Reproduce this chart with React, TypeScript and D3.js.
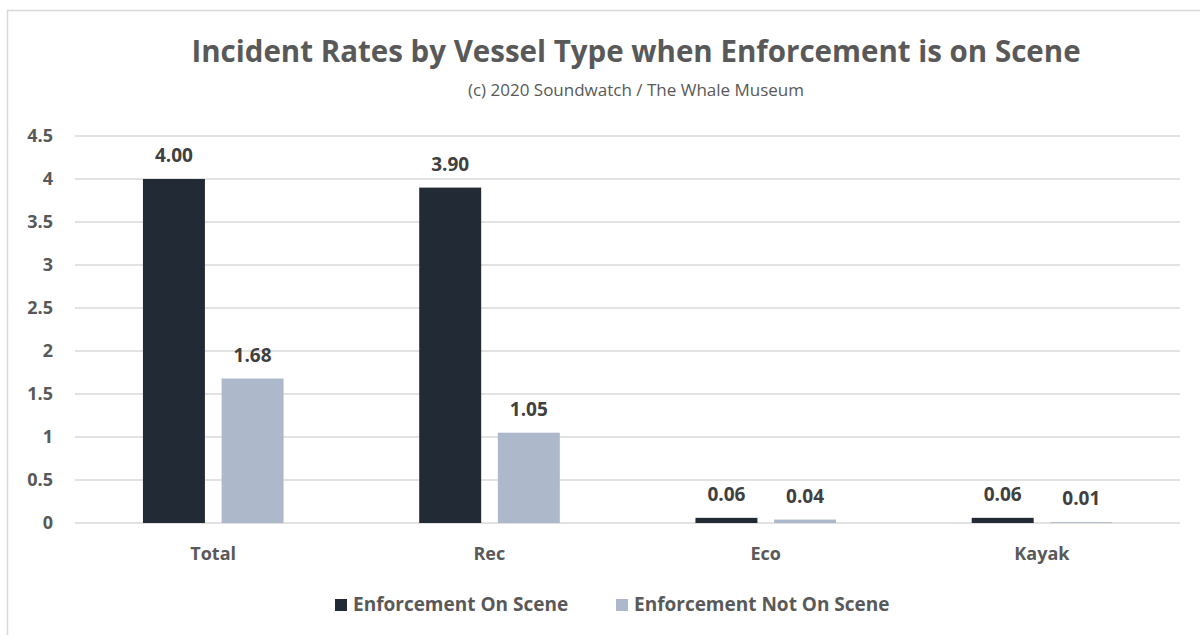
import React from "react";
import * as d3 from "d3";

const categories = ["Total", "Rec", "Eco", "Kayak"];
const seriesNames = ["Enforcement On Scene", "Enforcement Not On Scene"];
const onScene = [4.0, 3.9, 0.06, 0.06];
const notOnScene = [1.68, 1.05, 0.04, 0.01];
const yTicks = [0, 0.5, 1, 1.5, 2, 2.5, 3, 3.5, 4, 4.5];
const colors = ["#222A35", "#ADB9CA"];

const W = 1200;
const H = 635;
const FONT = "'Open Sans', 'Noto Sans', sans-serif";

export default function App() {
  const left = 75;
  const right = 1180;
  const top = 136;
  const bottom = 523;

  const y = d3.scaleLinear().domain([0, 4.5]).range([bottom, top]);
  const x0 = d3.scaleBand<string>().domain(categories).range([left, right]).padding(0);
  const bw = x0.bandwidth();
  const x1 = d3
    .scaleBand<string>()
    .domain(seriesNames)
    .range([bw * 0.246, bw * 0.755])
    .paddingInner(0.212)
    .paddingOuter(0);

  const series = [onScene, notOnScene];

  return (
    <svg
      width={W}
      height={H}
      style={{ position: "absolute", left: 0, top: 0, background: "#fff" }}
      fontFamily={FONT}
    >
      <rect x={0} y={0} width={W} height={H} fill="#fff" />
      <rect x={7.5} y={10.5} width={1300} height={700} fill="#fff" stroke="#D9D9D9" strokeWidth={1.5} />

      <text x={636} y={62} textAnchor="middle" fontSize={29.5} fontWeight={700} fill="#595959">
        Incident Rates by Vessel Type when Enforcement is on Scene
      </text>
      <text x={636} y={96} textAnchor="middle" fontSize={17} fill="#595959">
        (c) 2020 Soundwatch / The Whale Museum
      </text>

      {yTicks.map((t) => (
        <g key={t}>
          <line x1={left} x2={right} y1={y(t)} y2={y(t)} stroke="#D9D9D9" strokeWidth={1.3} />
          <text
            x={53}
            y={y(t)}
            dy="0.36em"
            textAnchor="end"
            fontSize={18}
            fontWeight={700}
            fill="#595959"
          >
            {String(t)}
          </text>
        </g>
      ))}

      {categories.map((c, i) => (
        <g key={c} transform={`translate(${x0(c)},0)`}>
          {series.map((vals, s) => {
            const name = seriesNames[s];
            const v = vals[i];
            const bx = x1(name)!;
            return (
              <g key={name}>
                <rect x={bx} y={y(v)} width={x1.bandwidth()} height={y(0) - y(v)} fill={colors[s]} />
                <text
                  x={bx + x1.bandwidth() / 2}
                  y={y(v) - 17}
                  textAnchor="middle"
                  fontSize={19}
                  fontWeight={700}
                  fill="#404040"
                >
                  {v.toFixed(2)}
                </text>
              </g>
            );
          })}
          <text
            x={bw / 2}
            y={560}
            textAnchor="middle"
            fontSize={18}
            fontWeight={700}
            fill="#595959"
          >
            {c}
          </text>
        </g>
      ))}

      <g>
        <rect x={335} y={599} width={12} height={12} fill={colors[0]} />
        <text x={353} y={611} fontSize={19} fontWeight={700} fill="#595959">
          {seriesNames[0]}
        </text>
        <rect x={616} y={599} width={12} height={12} fill={colors[1]} />
        <text x={634} y={611} fontSize={19} fontWeight={700} fill="#595959">
          {seriesNames[1]}
        </text>
      </g>
    </svg>
  );
}
